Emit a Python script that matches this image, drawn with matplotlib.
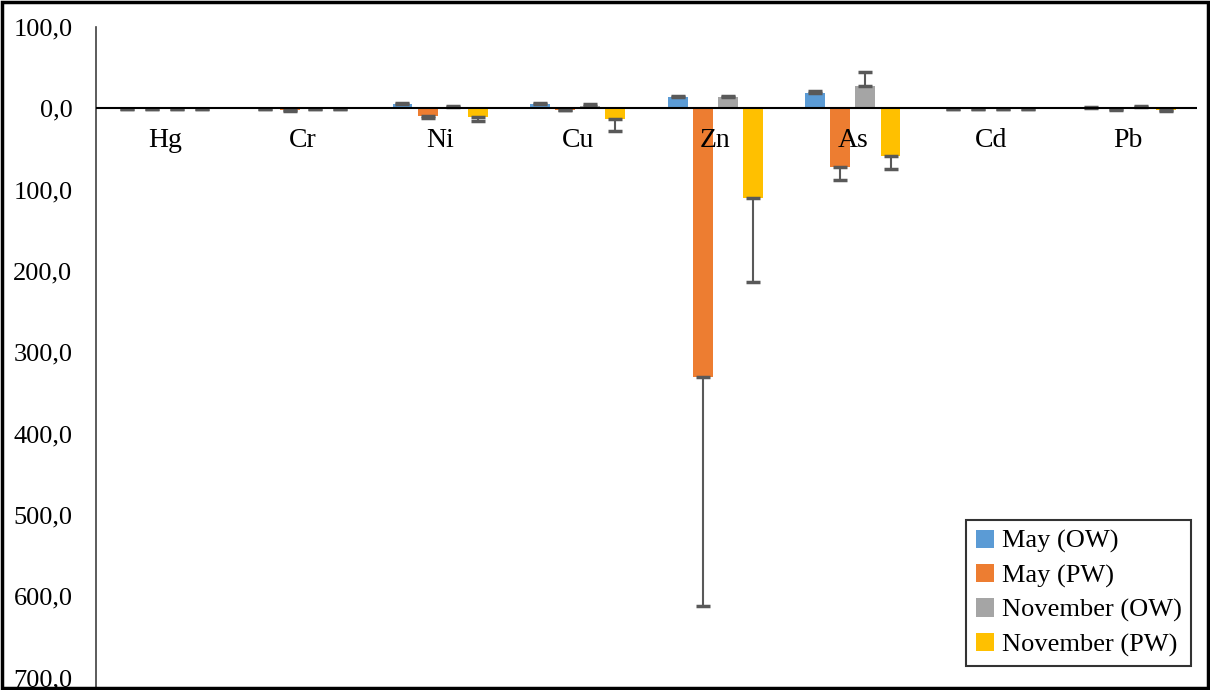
import numpy as np
import matplotlib.pyplot as plt
from matplotlib.patches import Rectangle
from matplotlib.ticker import FuncFormatter

plt.rcParams['font.family'] = ['Liberation Serif', 'DejaVu Serif']

metals = ['Hg', 'Cr', 'Ni', 'Cu', 'Zn', 'As', 'Cd', 'Pb']
series = ['May (OW)', 'May (PW)', 'November (OW)', 'November (PW)']
colors = ['#5B9BD5', '#ED7D31', '#A5A5A5', '#FFC000']

# values (negative = below the zero line)
may_ow = [-0.3, -0.3, 5.0, 5.0, 13.5, 18.5, -0.3, 1.0]
may_pw = [-0.3, -1.5, -10.0, -1.5, -330.0, -72.0, -0.3, -0.5]
nov_ow = [-0.3, -0.3, 2.0, 3.0, 13.5, 28.0, -0.3, 2.0]
nov_pw = [-0.3, -0.3, -11.0, -13.5, -110.5, -58.0, -0.3, -2.0]

may_ow_err = [1.0, 1.0, 2.0, 1.5, 2.0, 2.5, 1.0, 1.0]
may_pw_err = [1.0, 1.5, 2.0, 0.5, 282.0, 16.0, 1.0, 1.0]
nov_ow_err = [1.0, 1.0, 1.0, 2.0, 2.0, 17.0, 1.0, 1.5]
nov_pw_err = [1.0, 1.0, 4.0, 14.0, 103.0, 17.0, 1.0, 1.5]

values = [may_ow, may_pw, nov_ow, nov_pw]
errors = [may_ow_err, may_pw_err, nov_ow_err, nov_pw_err]

fig = plt.figure(figsize=(12.1, 6.9), dpi=100)
ax = fig.add_axes([96 / 1210, 0, (1197 - 96) / 1210, 1 - 27 / 690])

x = np.arange(len(metals))
width = 0.145
step = 0.182
for i, (vals, errs) in enumerate(zip(values, errors)):
    vals = np.array(vals)
    errs = np.array(errs)
    lower = np.where(vals < 0, errs, 0)
    upper = np.where(vals >= 0, errs, 0)
    pos = x + (i - 1.5) * step
    ax.bar(pos, vals, width, color=colors[i], label=series[i], zorder=2)
    ax.errorbar(pos, vals, yerr=[lower, upper], fmt='none', ecolor='#595959',
                elinewidth=1.5, capsize=5, capthick=2.5, zorder=3)

ax.axhline(0, color='black', lw=1.5, zorder=4)
ax.set_xlim(-0.5, len(metals) - 0.5)
ax.set_ylim(-715, 100)
ax.set_yticks(np.arange(100, -701, -100))
ax.yaxis.set_major_formatter(FuncFormatter(lambda v, p: f'{abs(v):.1f}'.replace('.', ',')))
ax.tick_params(axis='y', length=0, labelsize=19, pad=17)
ax.set_xticks([])
for s in ['top', 'right', 'bottom']:
    ax.spines[s].set_visible(False)
ax.spines['left'].set_color('#404040')
ax.spines['left'].set_linewidth(1.2)

for i, m in enumerate(metals):
    ax.text(i, -40, m, ha='center', va='center', fontsize=20)

leg = ax.legend(loc='lower right', bbox_to_anchor=(1191 / 1210, (690 - 666) / 690),
                bbox_transform=fig.transFigure, fontsize=19, frameon=True,
                fancybox=False, handlelength=0.7, handleheight=0.7,
                handletextpad=0.3, labelspacing=0.4, borderpad=0.35,
                borderaxespad=0)
leg.get_frame().set_edgecolor('black')
leg.get_frame().set_linewidth(1.5)

fig.patches.append(Rectangle((0.002, 0.003), 0.996, 0.994, transform=fig.transFigure,
                             fill=False, edgecolor='black', lw=2.5))

fig.savefig('out.png', dpi=100)
